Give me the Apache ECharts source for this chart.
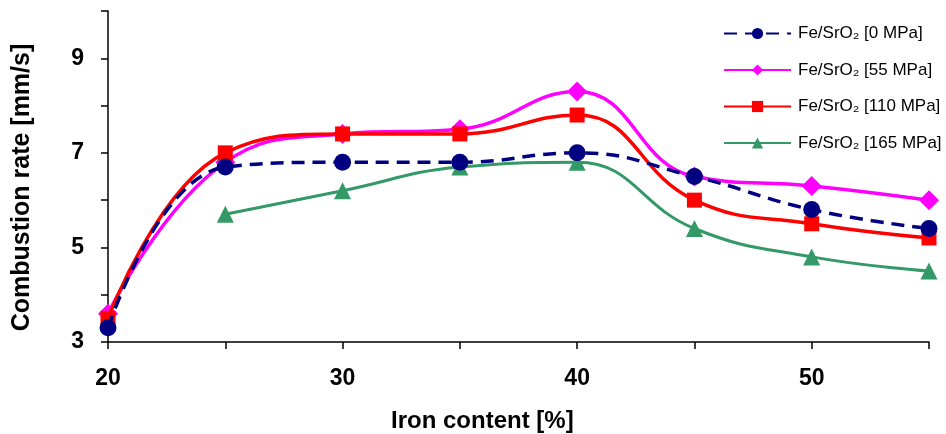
<!DOCTYPE html>
<html><head><meta charset="utf-8">
<script src="https://cdn.jsdelivr.net/npm/echarts@6/dist/echarts.min.js"></script>
<style>html,body{margin:0;padding:0;background:#fff}#c{width:946px;height:434px}</style>
</head><body><div id="c"></div>
<script>
const ironContent = [20, 25, 30, 35, 40, 45, 50, 55];
const rate0MPa   = [3.3, 6.7, 6.8, 6.8, 7.0, 6.5, 5.8, 5.4];
const rate55MPa  = [3.6, 6.8, 7.4, 7.5, 8.3, 6.5, 6.3, 6.0];
const rate110MPa = [3.5, 7.0, 7.4, 7.4, 7.8, 6.0, 5.5, 5.2];
const rate165MPa = [null, 5.7, 6.2, 6.7, 6.8, 5.4, 4.8, 4.5];
const seriesNames = ['Fe/SrO₂ [0 MPa]', 'Fe/SrO₂ [55 MPa]', 'Fe/SrO₂ [110 MPa]', 'Fe/SrO₂ [165 MPa]'];
const yLabels = [3, 5, 7, 9];
const xLabels = [20, 30, 40, 50];

function pairs(vals){ const out=[]; ironContent.forEach((x,i)=>{ if(vals[i]!=null) out.push([x, vals[i]]); }); return out; }

const font = 'Liberation Sans, Arial, sans-serif';
const sm = 0.45;
const chart = echarts.init(document.getElementById('c'));
chart.setOption({
  animation: false,
  backgroundColor: '#fff',
  grid: { left: 108, right: 17, top: 11, bottom: 92 },
  title: { text: 'Iron content [%]', left: 386, top: 404,
    textStyle: { fontFamily: font, fontWeight: 'bold', fontSize: 24, color: '#000' } },
  legend: {
    orient: 'vertical', left: 723, top: 25, padding: 0,
    itemWidth: 67, itemHeight: 14, itemGap: 19.5,
    textStyle: { fontFamily: font, fontSize: 17, color: '#000', lineHeight: 17, padding: [0, 0, 0, 2] },
    data: seriesNames
  },
  xAxis: {
    type: 'value', min: 20, max: 55, interval: 5,
    axisLine: { lineStyle: { color: '#000', width: 1.5 } },
    axisTick: { show: true, length: 7, lineStyle: { color: '#000', width: 1.5 } },
    splitLine: { show: false },
    axisLabel: { margin: 25, fontFamily: font, fontWeight: 'bold', fontSize: 23, color: '#000',
      formatter: v => xLabels.includes(v) ? String(v) : '' }
  },
  yAxis: {
    type: 'value', min: 3, max: 10, interval: 1,
    name: 'Combustion rate [mm/s]', nameLocation: 'middle', nameGap: 73,
    nameTextStyle: { fontFamily: font, fontWeight: 'bold', fontSize: 25, color: '#000', padding: [0, 22, 0, 0] },
    axisLine: { show: true, lineStyle: { color: '#000', width: 1.5 } },
    axisTick: { show: true, length: 7, lineStyle: { color: '#000', width: 1.5 } },
    splitLine: { show: false },
    axisLabel: { margin: 24, fontFamily: font, fontWeight: 'bold', fontSize: 23, color: '#000',
      formatter: v => yLabels.includes(v) ? String(v) : '' }
  },
  series: [
    { name: seriesNames[0], type: 'line', smooth: sm, data: pairs(rate0MPa),
      symbol: 'circle', symbolSize: 17,
      itemStyle: { color: '#000080' }, lineStyle: { color: '#000080', width: 3.5, type: [13, 8] }, z: 4 },
    { name: seriesNames[1], type: 'line', smooth: sm, data: pairs(rate55MPa),
      symbol: 'diamond', symbolSize: 20,
      itemStyle: { color: '#FF00FF' }, lineStyle: { color: '#FF00FF', width: 3.5 }, z: 2 },
    { name: seriesNames[2], type: 'line', smooth: sm, data: pairs(rate110MPa),
      symbol: 'rect', symbolSize: 15,
      itemStyle: { color: '#FF0000' }, lineStyle: { color: '#FF0000', width: 3.5 }, z: 3 },
    { name: seriesNames[3], type: 'line', smooth: sm, data: pairs(rate165MPa),
      symbol: 'triangle', symbolSize: 17,
      itemStyle: { color: '#339966' }, lineStyle: { color: '#339966', width: 3 }, z: 1 }
  ]
});
</script></body></html>
